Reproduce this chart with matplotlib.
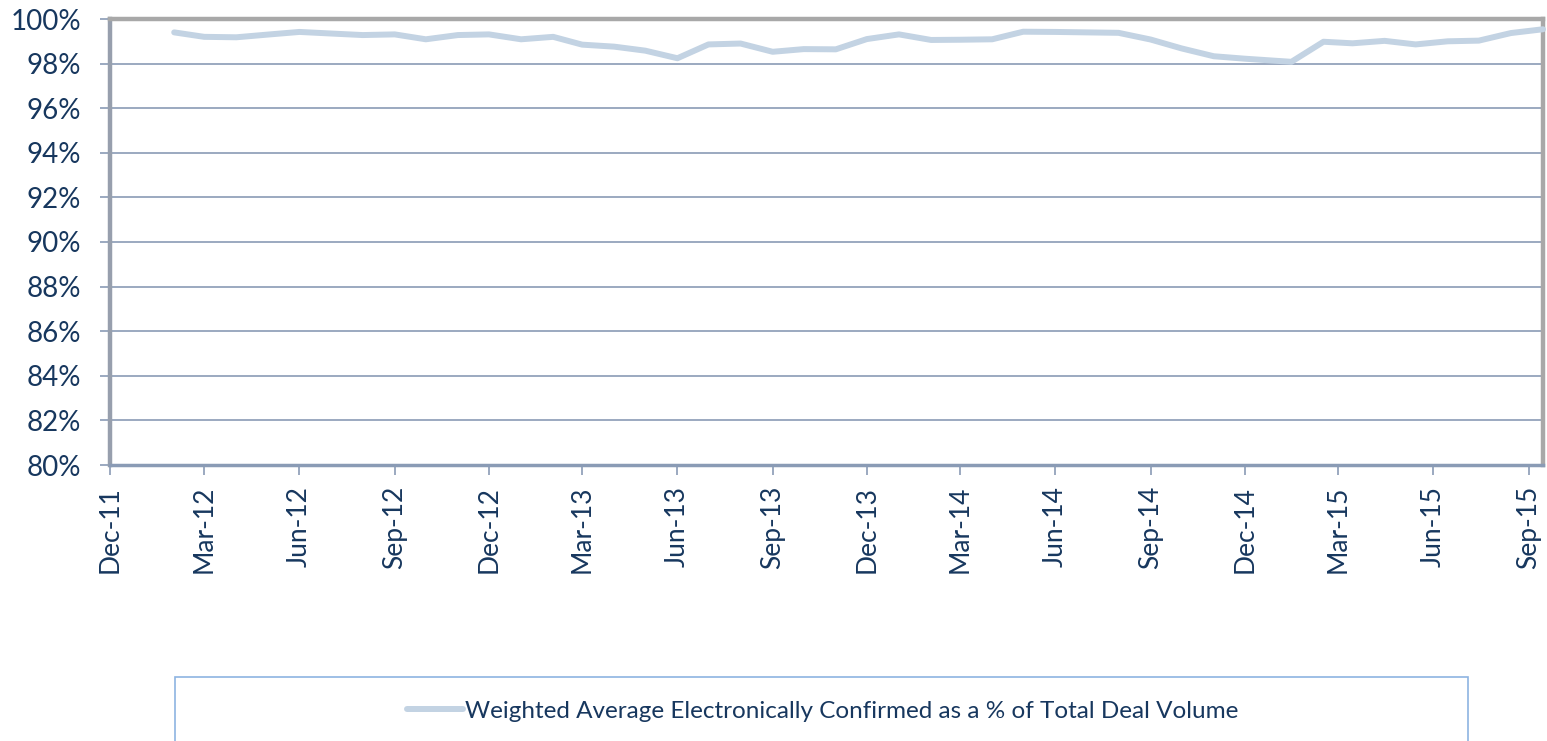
import numpy as np
import pandas as pd
import matplotlib
matplotlib.use("Agg")
import matplotlib.pyplot as plt
import matplotlib.dates as mdates
from matplotlib.patches import Rectangle
from matplotlib.ticker import FuncFormatter

# monthly dates; from 2015 the data sits mid-month
dates = list(pd.date_range("2012-02-01", "2014-12-01", freq="MS")) + \
        list(pd.date_range("2015-01-01", "2015-09-01", freq="MS") + pd.Timedelta(days=14))
pct = [99.40, 99.20, 99.18, 99.30, 99.42, 99.35, 99.28, 99.31, 99.09, 99.28, 99.31,
       99.09, 99.20, 98.85, 98.76, 98.58, 98.24, 98.86, 98.90, 98.53, 98.65, 98.64, 99.10,
       99.31, 99.06, 99.07, 99.09, 99.43, 99.42, 99.40, 99.38, 99.08, 98.68, 98.33, 98.22,
       98.08, 98.98, 98.91, 99.02, 98.86, 99.00, 99.03, 99.37, 99.54]
series_name = "Weighted Average Electronically Confirmed as a % of Total Deal Volume"

navy = "#17375E"
grid_col = "#8A9BB5"
line_col = "#C3D3E3"

plt.rcParams['font.family'] = ['Lato', 'DejaVu Sans']

fig = plt.figure(figsize=(15.47, 7.41), dpi=100)
ax = fig.add_axes([110/1547, 1-465/741, 1433/1547, 446/741])

ax.plot(dates, pct, color=line_col, linewidth=4.3, solid_capstyle='round',
        solid_joinstyle='round', label=series_name, clip_on=False, zorder=3)

ax.set_ylim(80, 100)
ax.set_yticks(np.arange(80, 101, 2))
ax.yaxis.set_major_formatter(FuncFormatter(lambda v, p: f"{v:.0f}%"))
ax.set_xlim(pd.Timestamp("2011-12-01"), pd.Timestamp("2015-09-15"))
ax.xaxis.set_major_locator(mdates.MonthLocator(bymonth=[3, 6, 9, 12]))
ax.xaxis.set_major_formatter(mdates.DateFormatter("%b-%y"))

ax.grid(axis='y', color=grid_col, linewidth=1.2)
ax.set_axisbelow(True)
for s in ['top', 'right']:
    ax.spines[s].set_color("#A8A8A8")
    ax.spines[s].set_linewidth(3.2)
ax.spines['left'].set_color("#979FAD")
ax.spines['left'].set_linewidth(3.2)
ax.spines['bottom'].set_color(grid_col)
ax.spines['bottom'].set_linewidth(2.5)

ax.tick_params(axis='y', length=7, width=1.2, color=grid_col, labelcolor=navy,
               labelsize=20, pad=14)
ax.tick_params(axis='x', length=7, width=1.2, color=grid_col, labelcolor=navy,
               labelsize=19, pad=8, labelrotation=90)

# legend box below the chart
fig.patches.append(Rectangle((175/1547, -0.05), 1293/1547, 0.05 + 1-677/741,
                             transform=fig.transFigure, facecolor='none',
                             edgecolor="#8DB4E2", linewidth=1.2))
fig.legend(loc='center', bbox_to_anchor=(823/1547, 1-711/741), frameon=False,
           fontsize=17.5, handlelength=2.3, handletextpad=0.1,
           labelcolor=navy)

fig.savefig("out.png", dpi=100)
